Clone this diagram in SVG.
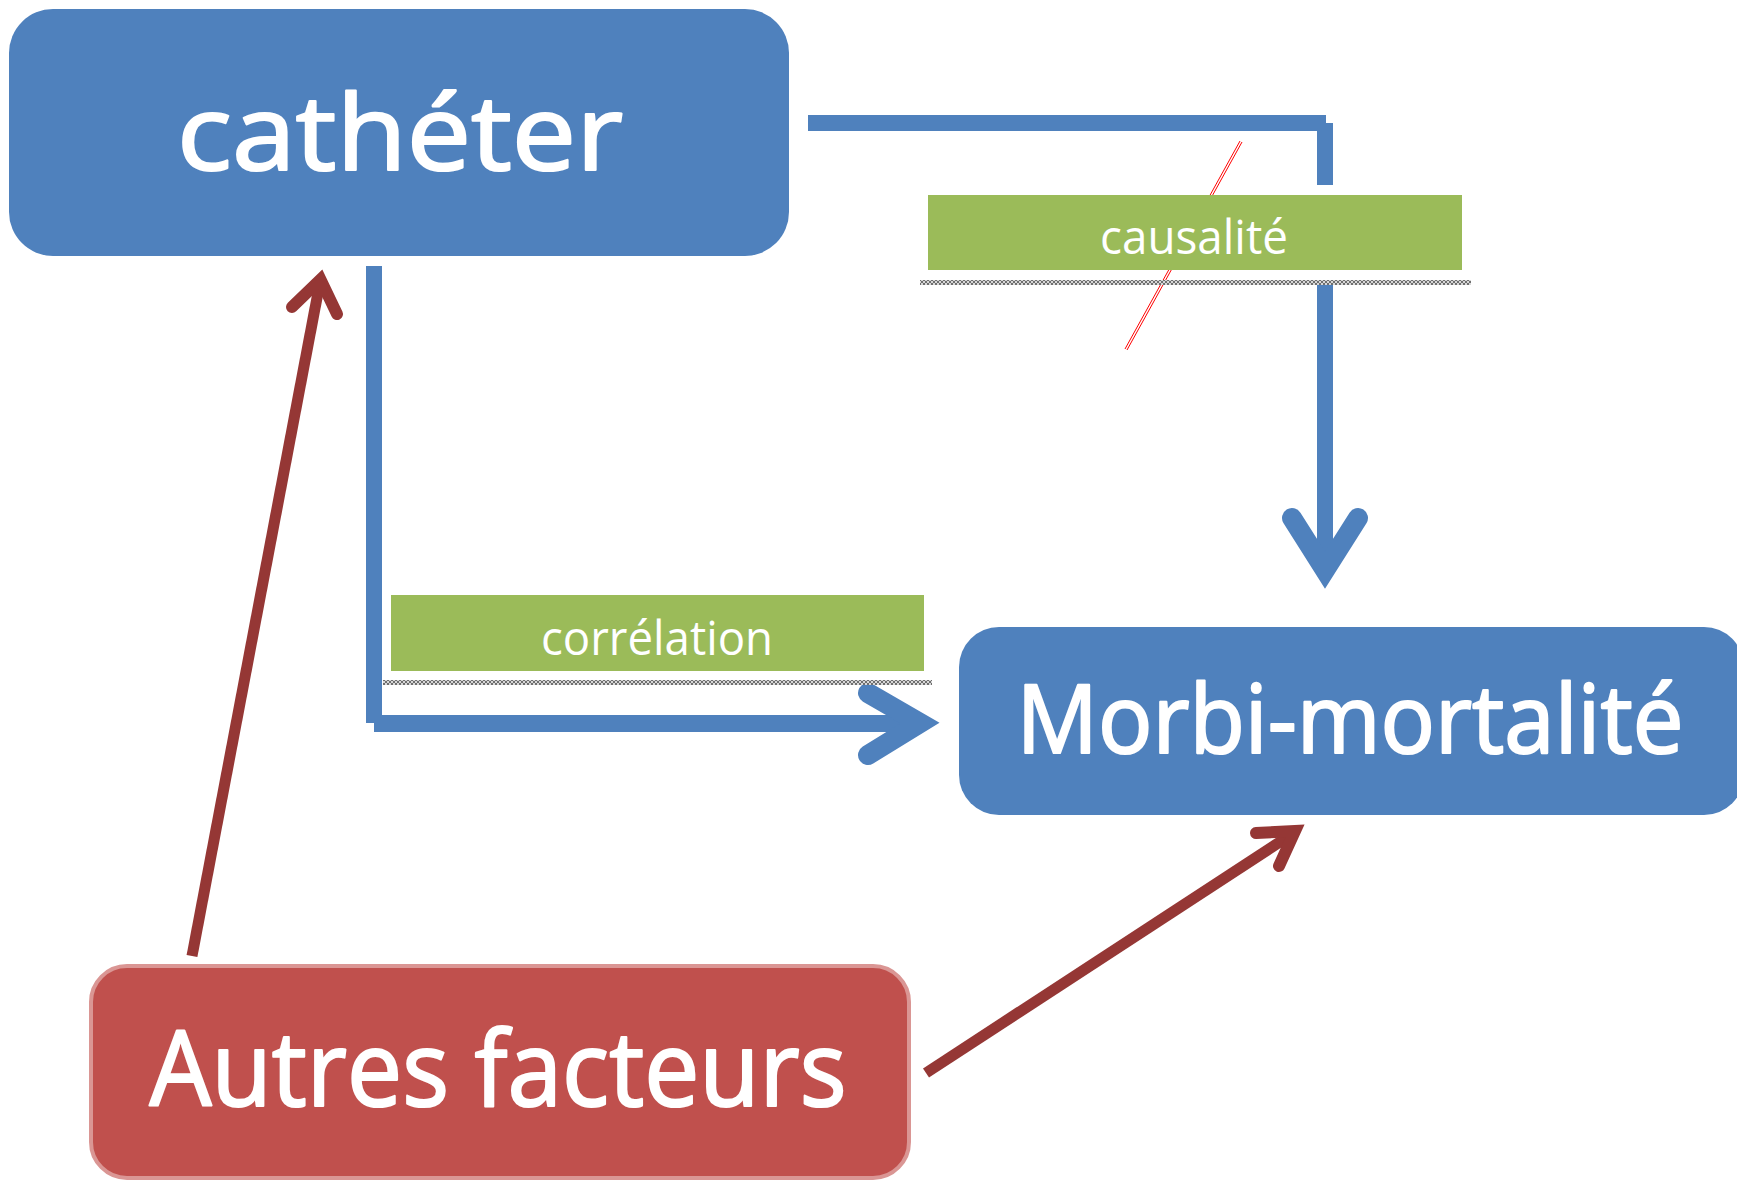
<svg xmlns="http://www.w3.org/2000/svg" width="1737" height="1183" viewBox="0 0 1737 1183">
<style>
.lbl{font-family:"Open Sans","Liberation Sans",sans-serif;fill:#ffffff;text-anchor:middle}
.big{stroke:#ffffff;stroke-width:2.2;stroke-linejoin:round}
.blue{fill:#4F81BD}
.green{fill:#9BBB59}
.bl{stroke:#4F81BD;stroke-width:20;fill:none;stroke-linecap:round;stroke-linejoin:miter;stroke-miterlimit:6}
.rd{stroke:#953735;stroke-width:11;fill:none}
.rdh{stroke:#953735;stroke-width:12;fill:none;stroke-linecap:round;stroke-linejoin:miter;stroke-miterlimit:6}
</style>
<defs>
<pattern id="hatch" width="4" height="4" patternUnits="userSpaceOnUse">
<rect width="4" height="4" fill="#d8d8d8"/>
<path d="M0,0 L4,4 M4,0 L0,4" stroke="#555" stroke-width="0.8"/>
</pattern>
</defs>
<rect width="1737" height="1183" fill="#ffffff"/>

<g id="connectors">
<!-- catheter -> morbi (causalite) -->
<rect class="blue" x="808" y="115" width="518" height="16"/>
<rect class="blue" x="1317" y="123" width="16" height="62"/>
<rect class="blue" x="1317" y="281" width="16" height="290"/>
<polyline class="bl" points="1292,518 1325,570 1358,518"/>
<!-- catheter -> morbi (correlation) -->
<rect class="blue" x="366" y="266" width="16" height="457"/>
<rect class="blue" x="374" y="715" width="545" height="17"/>
<polyline class="bl" points="868,693 920,723 868,755"/>
<!-- autres -> catheter -->
<line class="rd" x1="192" y1="956" x2="320" y2="282"/>
<polyline class="rdh" points="292,307 320.5,279.5 337,314"/>
<!-- autres -> morbi -->
<line class="rd" x1="926" y1="1073" x2="1292" y2="834"/>
<polyline class="rdh" points="1256,833 1295,831 1279,866"/>
<!-- red strike -->
<line x1="1240" y1="141" x2="1125" y2="349" stroke="#ff0000" stroke-width="1"/>
<line x1="1242" y1="142" x2="1127" y2="350" stroke="#ff0000" stroke-width="1"/>
</g>

<g id="node-catheter">
<rect class="blue" x="9" y="9" width="780" height="247" rx="44" ry="44"/>
<text class="lbl big" x="400" y="170" font-size="104" textLength="446" lengthAdjust="spacingAndGlyphs">cathéter</text>
</g>

<g id="node-causalite">
<rect class="green" x="928" y="195" width="534" height="75"/>
<rect x="920" y="280" width="551" height="5" fill="url(#hatch)"/>
<text class="lbl" x="1194" y="254" font-size="48" textLength="188" lengthAdjust="spacingAndGlyphs">causalité</text>
</g>

<g id="node-correlation">
<rect class="green" x="391" y="595" width="533" height="76"/>
<rect x="383" y="680" width="549" height="5" fill="url(#hatch)"/>
<text class="lbl" x="657" y="655" font-size="48" textLength="232" lengthAdjust="spacingAndGlyphs">corrélation</text>
</g>

<g id="node-morbi">
<path class="blue" d="M999,627 H1704 A40,40 0 0 1 1744,667 V775 A40,40 0 0 1 1704,815 H999 A40,40 0 0 1 959,775 V667 A40,40 0 0 1 999,627 Z"/>
<text class="lbl big" x="1350" y="753" font-size="96" textLength="667" lengthAdjust="spacingAndGlyphs">Morbi-mortalité</text>
</g>

<g id="node-autres">
<rect x="91" y="966" width="818" height="212" rx="36" ry="36" fill="#C0504D" stroke="#DA9694" stroke-width="4"/>
<text class="lbl big" x="498" y="1106" font-size="104" textLength="697" lengthAdjust="spacingAndGlyphs">Autres facteurs</text>
</g>
</svg>
